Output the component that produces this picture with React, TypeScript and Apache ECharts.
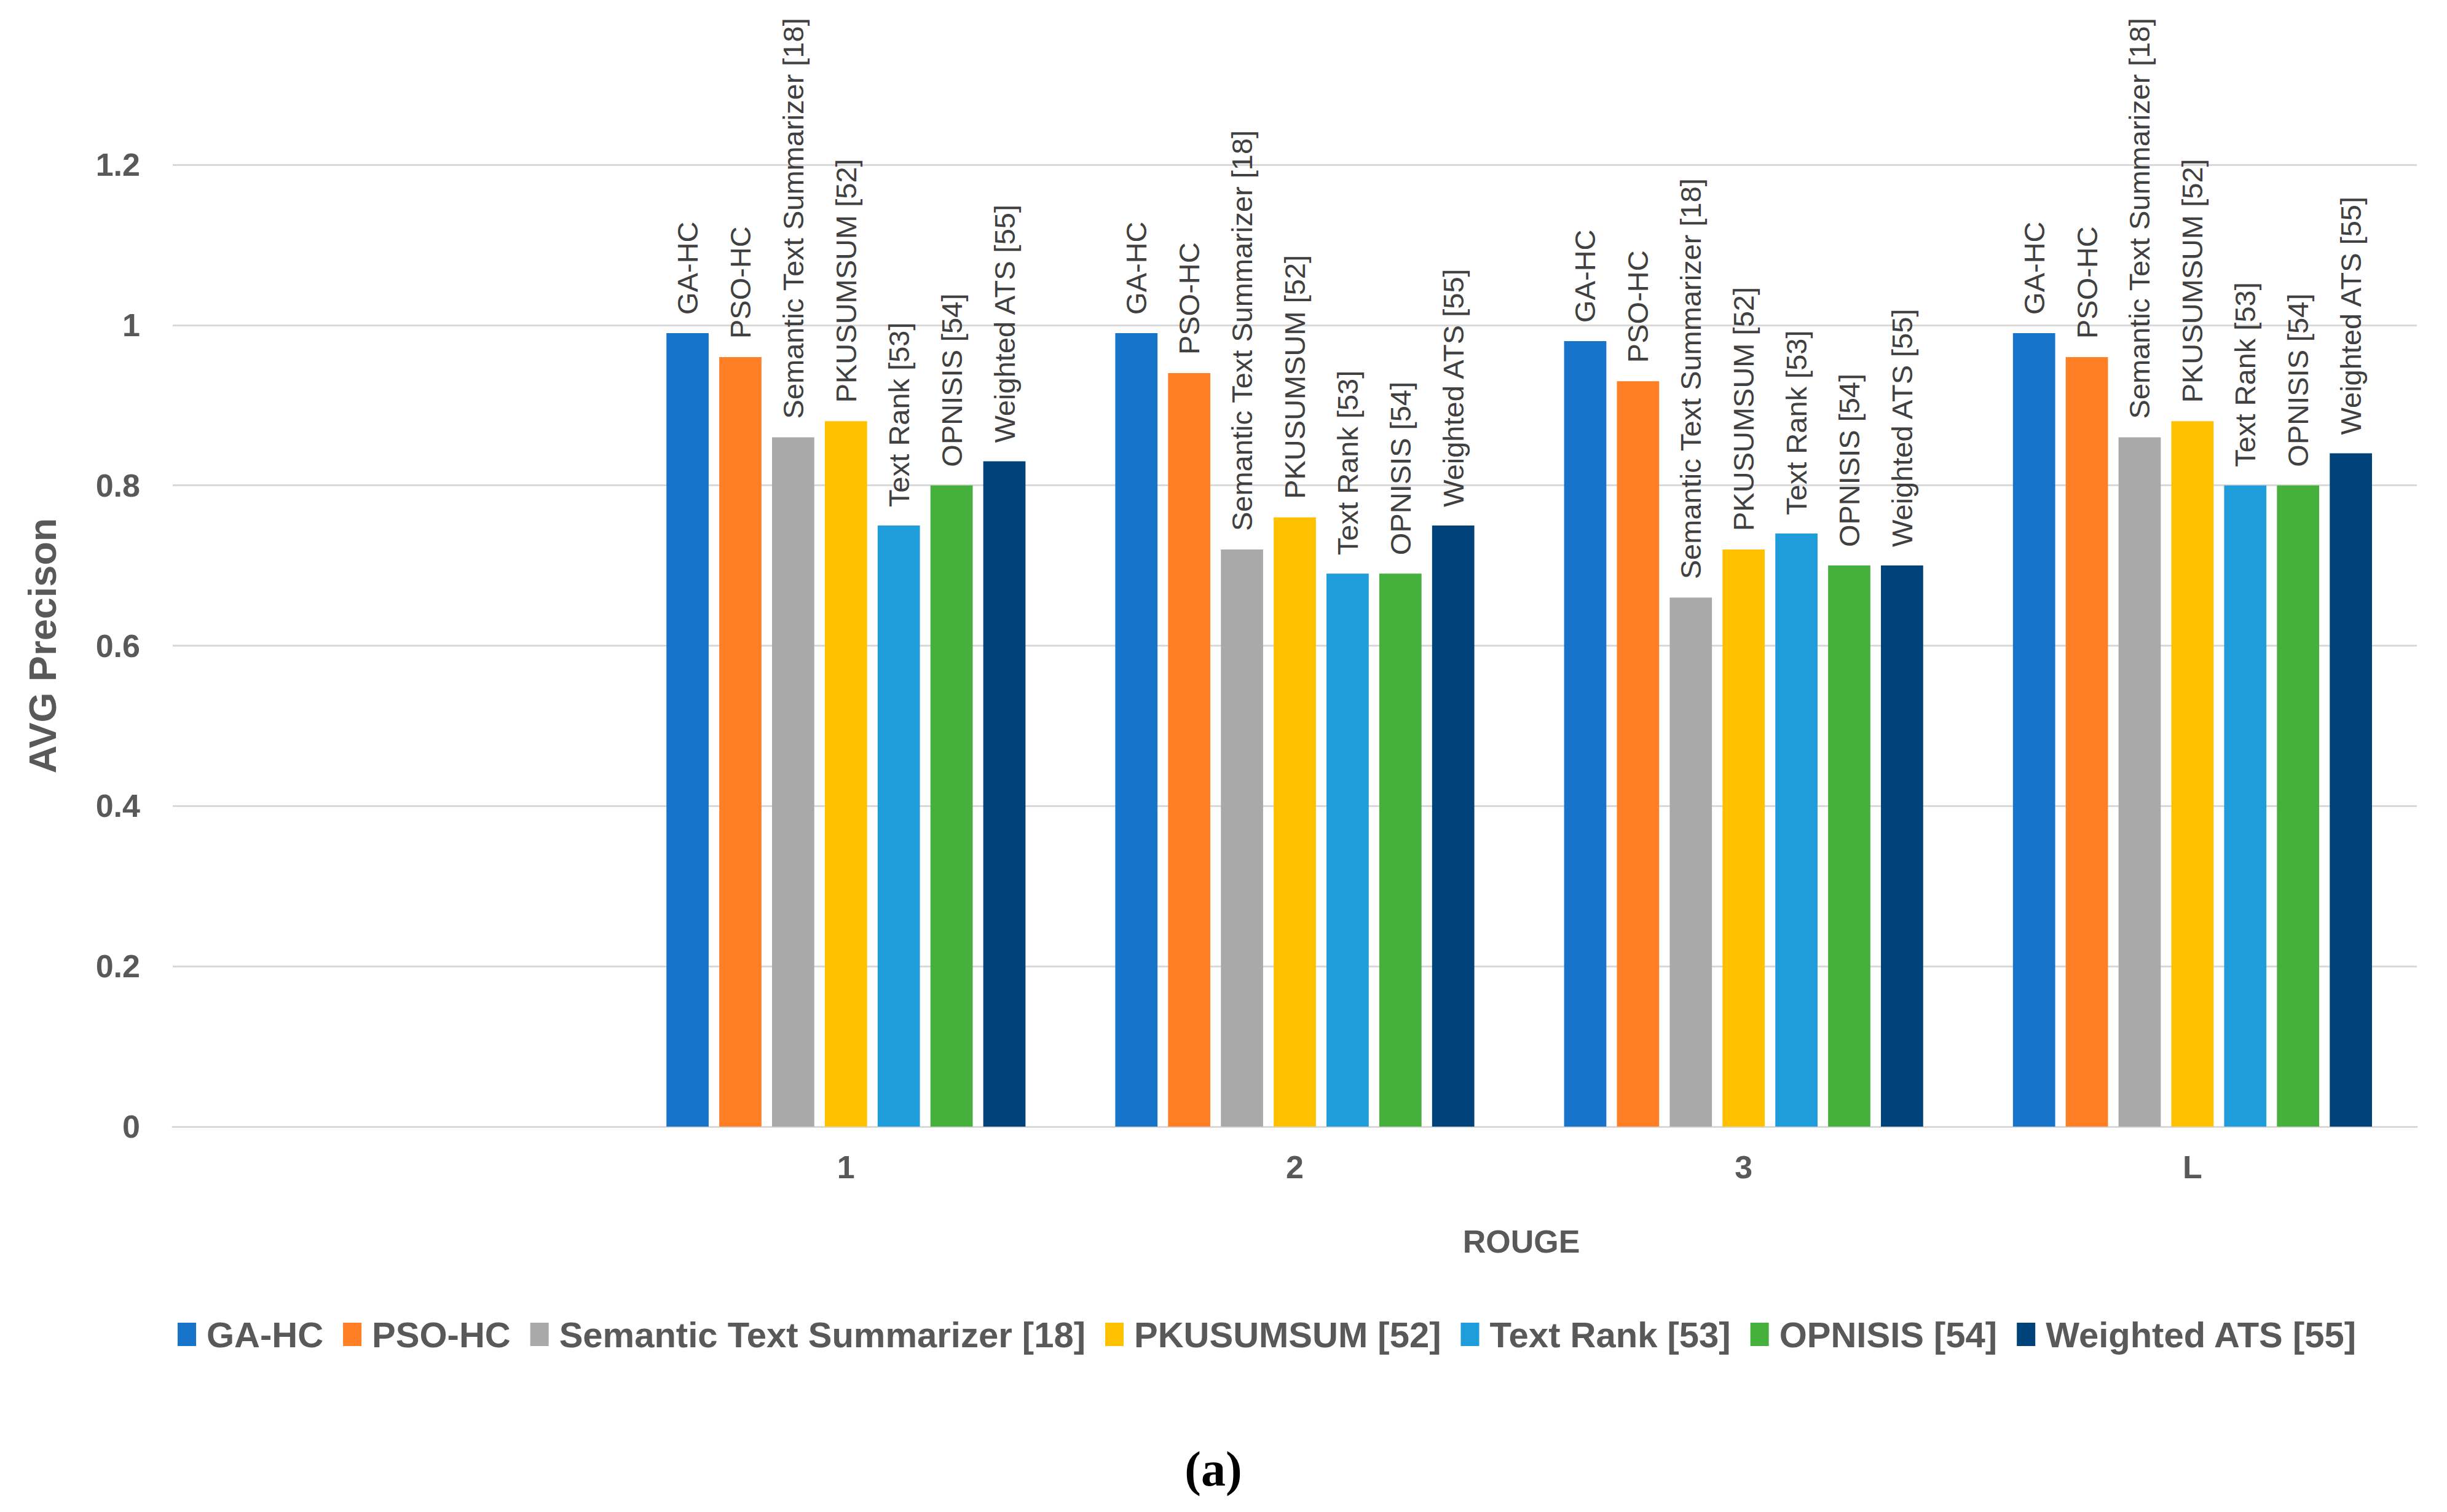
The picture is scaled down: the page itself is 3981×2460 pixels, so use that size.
import React, { useEffect, useRef } from "react";
import * as echarts from "echarts";

const categories = ["", "1", "2", "3", "L"];
const seriesNames = [
  "GA-HC",
  "PSO-HC",
  "Semantic Text Summarizer [18]",
  "PKUSUMSUM [52]",
  "Text Rank [53]",
  "OPNISIS [54]",
  "Weighted ATS [55]",
];
const gaHc = ["-", 0.99, 0.99, 0.98, 0.99];
const psoHc = ["-", 0.96, 0.94, 0.93, 0.96];
const semantic = ["-", 0.86, 0.72, 0.66, 0.86];
const pkusumsum = ["-", 0.88, 0.76, 0.72, 0.88];
const textRank = ["-", 0.75, 0.69, 0.74, 0.8];
const opnisis = ["-", 0.8, 0.69, 0.7, 0.8];
const weightedAts = ["-", 0.83, 0.75, 0.7, 0.84];
const seriesValues = [gaHc, psoHc, semantic, pkusumsum, textRank, opnisis, weightedAts];
const colors = ["#1873CA", "#FF7F27", "#A9A9A9", "#FFC000", "#1E9DDA", "#46B03C", "#00427A"];

const FONT = "'Liberation Sans', Arial, sans-serif";
const TXT = "#595959";

export default function App() {
  const ref = useRef<HTMLDivElement>(null);
  useEffect(() => {
    if (!ref.current) return;
    const chart = echarts.init(ref.current, null, { renderer: "svg" });
    chart.setOption({
      animation: false,
      backgroundColor: "#ffffff",
      color: colors,
      textStyle: { fontFamily: FONT },
      grid: { left: 281, right: 49, top: 268, bottom: 627, containLabel: false },
      legend: {
        left: 284,
        top: 2137,
        icon: "rect",
        itemWidth: 30,
        itemHeight: 38,
        itemGap: 32,
        data: seriesNames,
        textStyle: {
          fontFamily: FONT,
          fontSize: 58,
          fontWeight: "bold",
          color: TXT,
          padding: [0, 0, 0, 12],
        },
      },
      xAxis: {
        type: "category",
        data: categories,
        axisTick: { show: false },
        axisLine: { show: true, lineStyle: { color: "#D9D9D9", width: 3 } },
        axisLabel: { fontFamily: FONT, fontSize: 52, fontWeight: "bold", color: TXT, margin: 40 },
      },
      yAxis: {
        type: "value",
        min: 0,
        max: 1.2,
        interval: 0.2,
        name: "AVG Precison",
        nameLocation: "middle",
        nameRotate: 90,
        nameGap: 181,
        nameTextStyle: { fontFamily: FONT, fontSize: 63, fontWeight: "bold", color: TXT },
        axisLine: { show: false },
        axisTick: { show: false },
        splitLine: { show: true, lineStyle: { color: "#D9D9D9", width: 3 } },
        axisLabel: { fontFamily: FONT, fontSize: 52, fontWeight: "bold", color: TXT, margin: 53 },
      },
      graphic: [
        {
          type: "text",
          x: 2475,
          y: 2020,
          style: {
            text: "ROUGE",
            fontFamily: FONT,
            fontSize: 52,
            fontWeight: "bold",
            fill: TXT,
            textAlign: "center",
            textVerticalAlign: "middle",
          },
        },
        {
          type: "text",
          x: 1974,
          y: 2390,
          style: {
            text: "(a)",
            fontFamily: "'Liberation Serif', 'Times New Roman', serif",
            fontSize: 80,
            fontWeight: "bold",
            fill: "#000000",
            textAlign: "center",
            textVerticalAlign: "middle",
          },
        },
      ],
      series: seriesNames.map((name, i) => ({
        name,
        type: "bar",
        data: seriesValues[i],
        barCategoryGap: "20%",
        barGap: "25%",
        itemStyle: { color: colors[i] },
        label: {
          show: true,
          position: "top",
          rotate: 90,
          align: "left",
          verticalAlign: "middle",
          distance: 30,
          formatter: "{a}",
          fontFamily: FONT,
          fontSize: 47,
          color: "#404040",
        },
      })),
    });
    return () => chart.dispose();
  }, []);
  return (
    <div
      ref={ref}
      style={{ position: "fixed", left: 0, top: 0, width: 3981, height: 2460, background: "#fff" }}
    />
  );
}
